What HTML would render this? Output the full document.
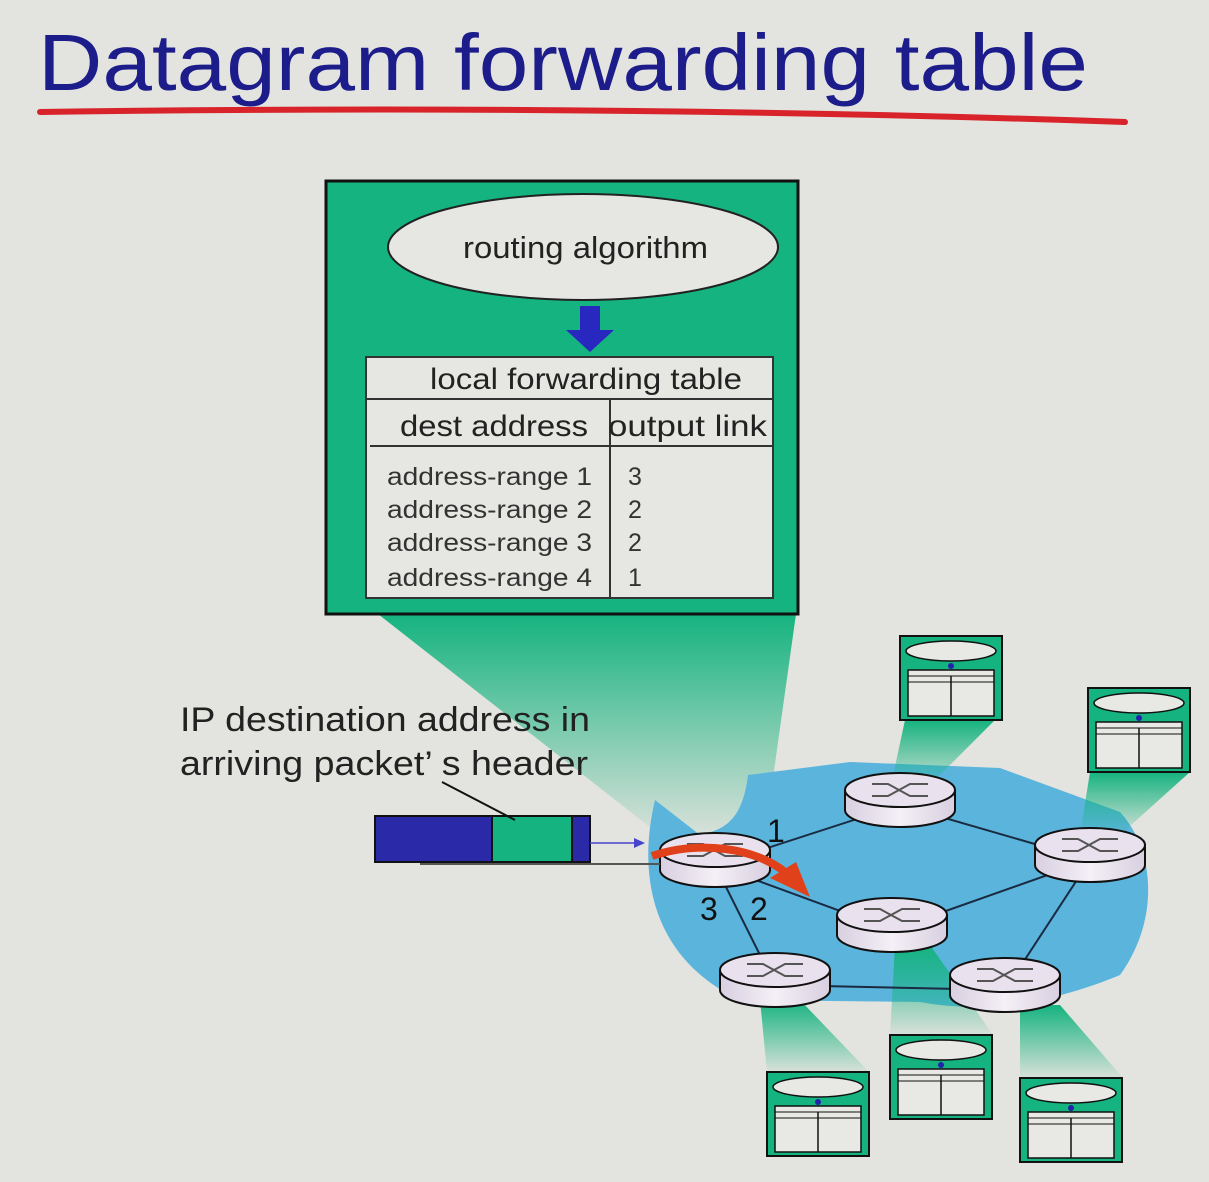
<!DOCTYPE html>
<html><head><meta charset="utf-8"><style>
html,body{margin:0;padding:0;background:#e3e3df;}
svg{display:block;}
text{font-family:"Liberation Sans",sans-serif;}
</style></head><body>
<svg width="1209" height="1182" viewBox="0 0 1209 1182" xmlns="http://www.w3.org/2000/svg">
<defs>
<linearGradient id="g" x1="0" y1="0" x2="0" y2="1">
<stop offset="0" stop-color="#15b37f"/><stop offset="1" stop-color="#15b37f" stop-opacity="0.05"/>
</linearGradient>
<linearGradient id="rt" x1="0" y1="0" x2="1" y2="0">
<stop offset="0" stop-color="#d8cfe0"/><stop offset="0.5" stop-color="#f4f0f6"/><stop offset="1" stop-color="#d8cfe0"/>
</linearGradient>
<g id="mt">
<rect x="0" y="0" width="102" height="84" fill="#15b37f" stroke="#111" stroke-width="2"/>
<ellipse cx="51" cy="15" rx="45" ry="10" fill="#e8e8e4" stroke="#111" stroke-width="1.5"/>
<circle cx="51" cy="30" r="3" fill="#2222aa"/>
<rect x="8" y="34" width="86" height="46" fill="#e8e8e4" stroke="#111" stroke-width="1.5"/>
<line x1="8" y1="40" x2="94" y2="40" stroke="#111"/>
<line x1="8" y1="46" x2="94" y2="46" stroke="#111"/>
<line x1="51" y1="40" x2="51" y2="80" stroke="#111" stroke-width="1.5"/>
</g>
<g id="rtr">
<path d="M-55,0 L-55,20 A55,17 0 0 0 55,20 L55,0" fill="url(#rt)" stroke="#111" stroke-width="2"/>
<ellipse cx="0" cy="0" rx="55" ry="17" fill="#e9e2ee" stroke="#111" stroke-width="2"/>
<path d="M-28,-6 L-12,-6 L10,6 L28,6 M-28,6 L-12,6 L10,-6 L28,-6" fill="none" stroke="#555" stroke-width="2"/>
</g>
</defs>

<text x="38" y="90" font-size="80" fill="#1c1c8a" textLength="1050" lengthAdjust="spacingAndGlyphs">Datagram forwarding  table</text>
<path d="M40,112 Q600,104 1125,122" stroke="#d8232a" stroke-width="6" fill="none" stroke-linecap="round"/>

<polygon points="378,614 796,614 765,835 660,835" fill="url(#g)"/>
<path d="M655,800 C636,880 655,960 740,1000 L920,1002 C990,1015 1060,1000 1120,975 C1160,920 1155,850 1120,812 L1000,768 L850,762 L748,775 C742,825 720,830 700,835 Z" fill="#5bb4dc"/>
<polygon points="905,720 995,720 925,790 890,790" fill="url(#g)"/>
<polygon points="1090,772 1190,772 1120,835 1080,835" fill="url(#g)"/>
<polygon points="767,1072 869,1072 800,1000 760,1000" fill="url(#g)"/>
<polygon points="890,1035 993,1035 930,945 895,945" fill="url(#g)"/>
<polygon points="1020,1078 1123,1078 1060,1005 1020,1005" fill="url(#g)"/>

<g stroke="#1a2a40" stroke-width="2">
<line x1="715" y1="865" x2="900" y2="805"/>
<line x1="900" y1="805" x2="1090" y2="860"/>
<line x1="1090" y1="860" x2="892" y2="930"/>
<line x1="715" y1="865" x2="892" y2="930"/>
<line x1="715" y1="865" x2="775" y2="985"/>
<line x1="775" y1="985" x2="1005" y2="990"/>
<line x1="1090" y1="860" x2="1005" y2="990"/>
</g>
<use href="#rtr" x="900" y="790"/>
<use href="#rtr" x="1090" y="845"/>
<use href="#rtr" x="892" y="915"/>
<use href="#rtr" x="775" y="970"/>
<use href="#rtr" x="1005" y="975"/>
<use href="#rtr" x="715" y="850"/>

<use href="#mt" x="900" y="636"/>
<use href="#mt" x="1088" y="688"/>
<use href="#mt" x="767" y="1072"/>
<use href="#mt" x="890" y="1035"/>
<use href="#mt" x="1020" y="1078"/>

<path d="M652,856 C700,840 755,848 785,872" stroke="#e0401a" stroke-width="8" fill="none"/>
<polygon points="770,878 796,862 810,897" fill="#e0401a"/>

<text x="767" y="842" font-size="32" fill="#111">1</text>
<text x="700" y="920" font-size="32" fill="#111">3</text>
<text x="750" y="920" font-size="32" fill="#111">2</text>

<rect x="326" y="181" width="472" height="433" fill="#15b37f" stroke="#111" stroke-width="3"/>
<ellipse cx="583" cy="247" rx="195" ry="53" fill="#e6e6e2" stroke="#222" stroke-width="2"/>
<text x="463" y="258" font-size="31" fill="#222" textLength="245" lengthAdjust="spacingAndGlyphs">routing algorithm</text>
<rect x="580" y="306" width="20" height="24" fill="#2828c0"/>
<polygon points="566,330 614,330 590,352" fill="#2828c0"/>
<rect x="366" y="357" width="407" height="241" fill="#e6e6e2" stroke="#333" stroke-width="2"/>
<line x1="366" y1="399" x2="773" y2="399" stroke="#333" stroke-width="2"/>
<line x1="370" y1="446" x2="773" y2="446" stroke="#333" stroke-width="2"/>
<line x1="610" y1="399" x2="610" y2="598" stroke="#333" stroke-width="2"/>
<text x="430" y="389" font-size="30" fill="#222" textLength="312" lengthAdjust="spacingAndGlyphs">local forwarding table</text>
<text x="400" y="436" font-size="30" fill="#222" textLength="188" lengthAdjust="spacingAndGlyphs">dest address</text>
<text x="608" y="436" font-size="30" fill="#222" textLength="159" lengthAdjust="spacingAndGlyphs">output  link</text>
<g font-size="25" fill="#333">
<text x="387" y="485" textLength="205" lengthAdjust="spacingAndGlyphs">address-range 1</text><text x="628" y="485">3</text>
<text x="387" y="518" textLength="205" lengthAdjust="spacingAndGlyphs">address-range 2</text><text x="628" y="518">2</text>
<text x="387" y="551" textLength="205" lengthAdjust="spacingAndGlyphs">address-range 3</text><text x="628" y="551">2</text>
<text x="387" y="586" textLength="205" lengthAdjust="spacingAndGlyphs">address-range 4</text><text x="628" y="586">1</text>
</g>

<line x1="420" y1="864" x2="660" y2="864" stroke="#555" stroke-width="2"/>
<rect x="375" y="816" width="117" height="46" fill="#2a2aa8" stroke="#111" stroke-width="2"/>
<rect x="492" y="816" width="80" height="46" fill="#15b37f" stroke="#111" stroke-width="2"/>
<rect x="572" y="816" width="18" height="46" fill="#2a2aa8" stroke="#111" stroke-width="2"/>
<line x1="590" y1="843" x2="636" y2="843" stroke="#4444cc" stroke-width="1.5"/>
<polygon points="634,838 645,843 634,848" fill="#4444cc"/>
<text x="180" y="731" font-size="34" fill="#222" textLength="410" lengthAdjust="spacingAndGlyphs">IP destination address in</text>
<text x="180" y="775" font-size="34" fill="#222" textLength="408" lengthAdjust="spacingAndGlyphs">arriving packet’ s header</text>
<line x1="442" y1="782" x2="515" y2="820" stroke="#111" stroke-width="2"/>
</svg>
</body></html>
